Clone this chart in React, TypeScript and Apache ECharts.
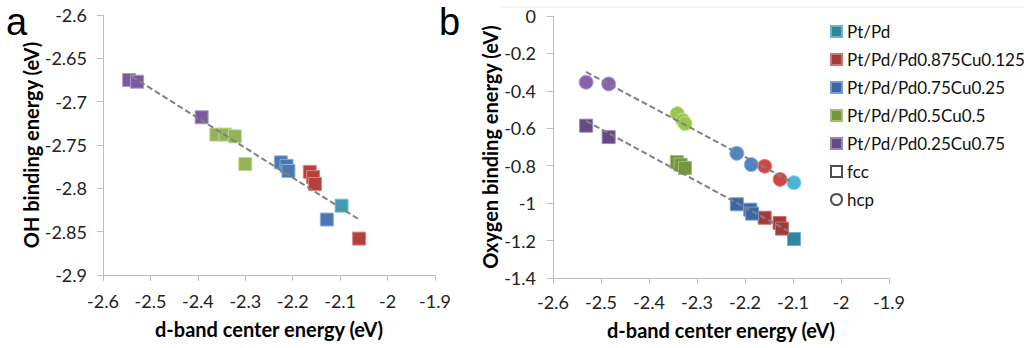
import React, { useEffect, useRef } from "react";
import * as echarts from "echarts";

// ---- Panel a: OH binding energy vs d-band center (all fcc) ----
const ohPtPd = [[-2.097, -2.82]];
const ohCu0125 = [[-2.164, -2.781], [-2.157, -2.787], [-2.153, -2.795], [-2.06, -2.858]];
const ohCu025 = [[-2.225, -2.77], [-2.213, -2.774], [-2.209, -2.78], [-2.128, -2.836]];
const ohCu05 = [[-2.361, -2.738], [-2.342, -2.738], [-2.322, -2.74], [-2.3, -2.772]];
const ohCu075 = [[-2.545, -2.675], [-2.528, -2.677], [-2.392, -2.718]];
const ohTrend = [[-2.539, -2.671], [-2.06, -2.836]];

// ---- Panel b: Oxygen binding energy ----
const oFccPtPd = [[-2.098, -1.192]];
const oHcpPtPd = [[-2.098, -0.891]];
const oFcc0125 = [[-2.159, -1.078], [-2.128, -1.106], [-2.123, -1.136]];
const oHcp0125 = [[-2.159, -0.803], [-2.127, -0.873]];
const oFcc025 = [[-2.217, -1.006], [-2.189, -1.035], [-2.185, -1.056]];
const oHcp025 = [[-2.217, -0.734], [-2.187, -0.794]];
const oFcc05 = [[-2.342, -0.78], [-2.334, -0.794], [-2.325, -0.812]];
const oHcp05 = [[-2.341, -0.522], [-2.33, -0.557], [-2.325, -0.575]];
const oFcc075 = [[-2.531, -0.586], [-2.484, -0.647]];
const oHcp075 = [[-2.531, -0.354], [-2.484, -0.363]];
const hcpTrend = [[-2.531, -0.299], [-2.106, -0.882]];
const fccTrend = [[-2.531, -0.561], [-2.106, -1.154]];

const legendNames = [
  "Pt/Pd",
  "Pt/Pd/Pd0.875Cu0.125",
  "Pt/Pd/Pd0.75Cu0.25",
  "Pt/Pd/Pd0.5Cu0.5",
  "Pt/Pd/Pd0.25Cu0.75",
  "fcc",
  "hcp",
];

const FONT = "Lato";

export default function App() {
  const ref = useRef<HTMLDivElement>(null);
  useEffect(() => {
    document.body.style.margin = "0";
    const chart = echarts.init(ref.current!, null, { renderer: "svg" });

    const fmt = (v: number) => String(+v.toFixed(2));
    const axisCommon = {
      axisLine: { show: true, onZero: false, lineStyle: { color: "#BFBFBF", width: 1 } },
      axisTick: { show: true, inside: false, length: 6, lineStyle: { color: "#BFBFBF" } },
      splitLine: { show: false },
      axisLabel: { color: "#222", fontSize: 18, fontFamily: FONT, formatter: fmt },
      nameTextStyle: { color: "#000", fontSize: 20, fontWeight: "bold", fontFamily: FONT },
    };

    const sq = (name: string, data: number[][], color: string, border: string, xi: number, size = 13) => ({
      name,
      type: "scatter",
      xAxisIndex: xi,
      yAxisIndex: xi,
      symbol: "rect",
      symbolSize: size,
      data,
      itemStyle: { color, borderColor: border, borderWidth: 1, opacity: 1 },
      z: 3,
    });
    const ci = (name: string, data: number[][], color: string, border: string, xi: number, size = 13) => ({
      name,
      type: "scatter",
      xAxisIndex: xi,
      yAxisIndex: xi,
      symbol: "circle",
      symbolSize: size,
      data,
      itemStyle: { color, borderColor: border, borderWidth: 1, opacity: 1 },
      z: 3,
    });
    const trend = (name: string, data: number[][], xi: number) => ({
      name,
      type: "line",
      xAxisIndex: xi,
      yAxisIndex: xi,
      data,
      showSymbol: false,
      symbol: "none",
      lineStyle: { color: "#808080", width: 2, type: [6, 3] },
      z: 4,
      silent: true,
    });

    chart.setOption({
      animation: false,
      backgroundColor: "#fff",
      textStyle: { fontFamily: FONT },
      grid: [
        { left: 103, top: 15, width: 332, height: 260 },
        { left: 553, top: 16, width: 336, height: 262 },
      ],
      xAxis: [
        {
          ...axisCommon,
          gridIndex: 0,
          type: "value",
          min: -2.6,
          max: -1.9,
          interval: 0.1,
          name: "d-band center energy (eV)",
          nameLocation: "middle",
          nameGap: 44,
          axisLabel: { ...axisCommon.axisLabel, margin: 17 },
        },
        {
          ...axisCommon,
          gridIndex: 1,
          type: "value",
          min: -2.6,
          max: -1.9,
          interval: 0.1,
          name: "d-band center energy (eV)",
          nameLocation: "middle",
          nameGap: 42,
          axisLabel: { ...axisCommon.axisLabel, margin: 15 },
        },
      ],
      yAxis: [
        {
          ...axisCommon,
          gridIndex: 0,
          type: "value",
          min: -2.9,
          max: -2.6,
          interval: 0.05,
          name: "OH binding energy (eV)",
          nameLocation: "middle",
          nameGap: 60,
          axisLabel: { ...axisCommon.axisLabel, margin: 16 },
        },
        {
          ...axisCommon,
          gridIndex: 1,
          type: "value",
          min: -1.4,
          max: 0,
          interval: 0.2,
          name: "Oxygen binding energy (eV)",
          nameLocation: "middle",
          nameGap: 51,
          axisLabel: { ...axisCommon.axisLabel, margin: 17 },
        },
      ],
      legend: {
        data: legendNames,
        orient: "vertical",
        left: 825,
        top: 18,
        itemWidth: 11,
        itemHeight: 11,
        itemGap: 11,
        textStyle: { fontSize: 17, color: "#111", fontFamily: FONT },
        selectedMode: false,
      },
      graphic: [
        { type: "text", left: 6, top: 3, style: { text: "a", fontSize: 38, fontFamily: "Liberation Sans", fill: "#000" } },
        { type: "text", left: 439, top: 3, style: { text: "b", fontSize: 38, fontFamily: "Liberation Sans", fill: "#000" } },
        { type: "line", shape: { x1: 500, y1: 7, x2: 1024, y2: 7 }, style: { stroke: "#EBEBEB", lineWidth: 1 } },
      ],
      series: [
        // panel a
        sq("a-PtPd", ohPtPd, "#3E9DB5", "#7CC3D6", 0),
        sq("a-0125", ohCu0125, "#B5403D", "#D88684", 0),
        sq("a-025", ohCu025, "#4A78B5", "#8FB0DB", 0),
        sq("a-05", ohCu05, "#92B456", "#C0D894", 0),
        sq("a-075", ohCu075, "#7A5C9E", "#AE9AC8", 0),
        trend("a-trend", ohTrend, 0),
        // panel b fcc (legend colours)
        sq("Pt/Pd", oFccPtPd, "#31869E", "#6FB3C6", 1, 13),
        sq("Pt/Pd/Pd0.875Cu0.125", oFcc0125, "#A33A38", "#C97573", 1, 13),
        sq("Pt/Pd/Pd0.75Cu0.25", oFcc025, "#3B67A6", "#7A9CCB", 1, 13),
        sq("Pt/Pd/Pd0.5Cu0.5", oFcc05, "#77953C", "#A5BF77", 1, 13),
        sq("Pt/Pd/Pd0.25Cu0.75", oFcc075, "#654A86", "#9A86B3", 1, 13),
        // panel b hcp
        ci("b-hcp-PtPd", oHcpPtPd, "#4BB5D6", "#8DD2E7", 1, 14),
        ci("b-hcp-0125", oHcp0125, "#CC4746", "#E38B8A", 1, 14),
        ci("b-hcp-025", oHcp025, "#4E85C9", "#92B5E2", 1, 14),
        ci("b-hcp-05", oHcp05, "#98C550", "#C5E08F", 1, 14),
        ci("b-hcp-075", oHcp075, "#8664AD", "#B9A3D3", 1, 14),
        trend("b-trend-hcp", hcpTrend, 1),
        trend("b-trend-fcc", fccTrend, 1),
        // legend-only shape entries
        {
          name: "fcc",
          type: "scatter",
          xAxisIndex: 1,
          yAxisIndex: 1,
          symbol: "rect",
          data: [],
          itemStyle: { color: "#fff", borderColor: "#222", borderWidth: 1 },
        },
        {
          name: "hcp",
          type: "scatter",
          xAxisIndex: 1,
          yAxisIndex: 1,
          symbol: "circle",
          data: [],
          itemStyle: { color: "#fff", borderColor: "#222", borderWidth: 1 },
        },
      ],
    });
    return () => chart.dispose();
  }, []);
  return <div ref={ref} style={{ width: 1024, height: 348 }} />;
}
